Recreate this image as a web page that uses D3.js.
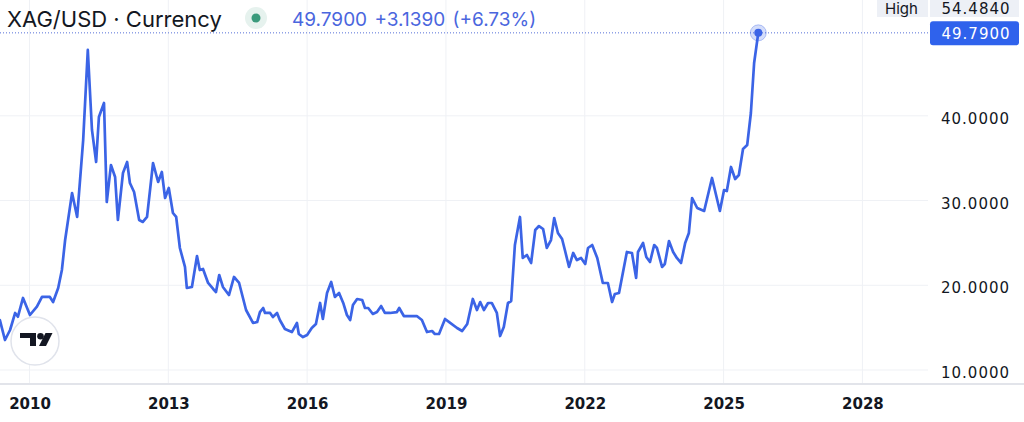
<!DOCTYPE html>
<html>
<head>
<meta charset="utf-8">
<script src="https://cdn.jsdelivr.net/npm/d3@7"></script>
<style>
  html, body { margin: 0; padding: 0; background: #ffffff; }
  svg { display: block; }
</style>
</head>
<body>
<svg id="chart" width="1024" height="422"></svg>
<script>
// ---- data (decimal year, price in USD) ----
const times = [
  2009.36, 2009.47, 2009.58, 2009.69, 2009.75, 2009.86, 2010.01, 2010.16, 2010.27, 2010.44,
  2010.51, 2010.62, 2010.70, 2010.77, 2010.92, 2011.03, 2011.16, 2011.26, 2011.35, 2011.44,
  2011.50, 2011.61, 2011.67, 2011.76, 2011.85, 2011.91, 2012.02, 2012.11, 2012.17, 2012.26,
  2012.37, 2012.45, 2012.54, 2012.67, 2012.78, 2012.86, 2012.93, 2013.01, 2013.10, 2013.17,
  2013.25, 2013.36, 2013.40, 2013.51, 2013.62, 2013.68, 2013.75, 2013.86, 2013.97, 2014.03,
  2014.10, 2014.18, 2014.31, 2014.42, 2014.53, 2014.68, 2014.83, 2014.92, 2014.98, 2015.05,
  2015.09, 2015.20, 2015.26, 2015.35, 2015.41, 2015.52, 2015.67, 2015.78, 2015.82, 2015.91,
  2016.00, 2016.10, 2016.19, 2016.28, 2016.34, 2016.43, 2016.52, 2016.60, 2016.69, 2016.78,
  2016.86, 2016.93, 2016.99, 2017.08, 2017.19, 2017.25, 2017.32, 2017.42, 2017.51, 2017.60,
  2017.68, 2017.79, 2017.94, 2017.99, 2018.09, 2018.22, 2018.37, 2018.48, 2018.59, 2018.70,
  2018.76, 2018.85, 2018.98, 2019.07, 2019.24, 2019.35, 2019.46, 2019.58, 2019.67, 2019.74,
  2019.82, 2019.91, 2019.99, 2020.10, 2020.17, 2020.25, 2020.34, 2020.41, 2020.49, 2020.60,
  2020.66, 2020.75, 2020.84, 2020.93, 2021.01, 2021.10, 2021.18, 2021.27, 2021.34, 2021.42,
  2021.51, 2021.57, 2021.66, 2021.75, 2021.83, 2021.92, 2022.01, 2022.07, 2022.16, 2022.27,
  2022.39, 2022.50, 2022.59, 2022.65, 2022.74, 2022.91, 2023.02, 2023.11, 2023.15, 2023.26,
  2023.33, 2023.41, 2023.50, 2023.56, 2023.67, 2023.73, 2023.82, 2023.91, 2023.99, 2024.08,
  2024.17, 2024.25, 2024.32, 2024.43, 2024.58, 2024.75, 2024.92, 2025.01, 2025.07, 2025.16,
  2025.25, 2025.33, 2025.42, 2025.51, 2025.59, 2025.66, 2025.75
];
const prices = [
  15.90, 13.54, 14.72, 16.73, 16.29, 18.50, 16.49, 17.47, 18.62, 18.62,
  18.02, 19.68, 21.80, 25.34, 30.89, 28.06, 37.14, 47.77, 38.33, 34.55,
  39.86, 41.51, 29.83, 34.19, 32.78, 27.70, 33.25, 34.55, 32.07, 31.01,
  27.70, 27.47, 28.06, 34.43, 32.19, 33.37, 30.30, 31.48, 28.53, 28.06,
  24.40, 22.16, 19.68, 19.80, 23.45, 21.80, 21.92, 20.27, 19.56, 19.20,
  21.21, 19.80, 18.85, 20.98, 20.27, 17.08, 15.55, 15.66, 16.84, 17.32,
  16.73, 16.73, 16.25, 16.73, 15.90, 14.84, 14.48, 15.55, 14.25, 13.89,
  14.13, 14.96, 15.43, 17.91, 16.02, 19.09, 20.39, 18.62, 19.09, 17.91,
  16.49, 15.90, 17.67, 18.38, 18.26, 17.32, 17.32, 16.61, 16.84, 17.55,
  16.73, 16.73, 16.84, 17.32, 16.37, 16.37, 16.37, 15.90, 14.48, 14.60,
  14.25, 14.25, 16.02, 15.66, 14.96, 14.60, 15.43, 18.38, 17.08, 18.02,
  17.08, 17.91, 17.91, 16.73, 14.01, 15.07, 17.91, 18.14, 24.75, 28.06,
  23.22, 23.57, 22.63, 26.52, 26.99, 26.64, 24.40, 25.34, 27.94, 26.17,
  25.46, 24.16, 22.16, 23.81, 22.98, 23.22, 22.51, 24.40, 24.75, 23.22,
  20.27, 20.27, 18.02, 18.97, 19.09, 23.93, 23.81, 20.86, 23.93, 24.99,
  23.34, 22.75, 24.75, 24.40, 22.16, 22.51, 25.22, 23.93, 23.22, 22.63,
  24.99, 26.17, 30.30, 29.12, 28.77, 32.66, 28.77, 31.24, 31.12, 33.96,
  32.54, 33.01, 36.08, 36.55, 40.33, 46.23, 49.79
];
const xTicks = [2010, 2013, 2016, 2019, 2022, 2025, 2028];
const yTicks = [10, 20, 30, 40];
const titleText = "XAG/USD · Currency";
const quoteText = "49.7900 +3.1390 (+6.73%)";
const highLabel = "High";
const highValue = 54.4840;
const lastValue = 49.7900;

// ---- layout ----
const W = 1024, H = 422;
const plotRight = 928;
const axisY = 384;
const lineColor = "#3b64e6";
const gridColor = "#eff1f5";
const textColor = "#131722";

const x = d3.scaleLinear().domain([2010, 2028]).range([29.5, 862.4]);
const y = d3.scaleLinear().domain([10, 40]).range([370, 115.8]);

const svg = d3.select("#chart");

svg.append("defs").append("clipPath").attr("id", "plotclip")
  .append("rect").attr("x", 0).attr("y", 0).attr("width", plotRight).attr("height", axisY);

// grid
const grid = svg.append("g");
grid.selectAll("line.v").data(xTicks).join("line")
  .attr("class", "v")
  .attr("x1", d => x(d)).attr("x2", d => x(d))
  .attr("y1", 0).attr("y2", axisY)
  .attr("stroke", gridColor).attr("stroke-width", 1);
grid.selectAll("line.h").data(yTicks).join("line")
  .attr("class", "h")
  .attr("x1", 0).attr("x2", plotRight)
  .attr("y1", d => y(d)).attr("y2", d => y(d))
  .attr("stroke", gridColor).attr("stroke-width", 1);

// bottom axis line
svg.append("line")
  .attr("x1", 0).attr("x2", W).attr("y1", axisY).attr("y2", axisY)
  .attr("stroke", "#e2e4ea").attr("stroke-width", 2);

// x axis
const xAxis = d3.axisBottom(x).tickValues(xTicks).tickSize(0).tickPadding(0).tickFormat(d3.format("d"));
const gx = svg.append("g").attr("transform", `translate(0,${axisY})`).call(xAxis);
gx.select(".domain").remove();
gx.selectAll("text")
  .attr("y", 25).attr("dy", 0)
  .attr("fill", textColor)
  .style("font-family", "'DejaVu Sans', sans-serif")
  .style("font-weight", "bold")
  .style("font-size", "15px");

// y axis
const yAxis = d3.axisRight(y).tickValues(yTicks).tickSize(0).tickPadding(13).tickFormat(d => d.toFixed(4));
const gy = svg.append("g").attr("transform", `translate(${plotRight},0)`).call(yAxis);
gy.select(".domain").remove();
gy.selectAll("text")
  .attr("dy", "0.5em")
  .attr("fill", textColor)
  .style("font-family", "'DejaVu Sans', sans-serif")
  .style("font-size", "15px")
  .style("letter-spacing", "1px");

// dotted last-price line
svg.append("line")
  .attr("x1", 0).attr("x2", plotRight)
  .attr("y1", y(lastValue)).attr("y2", y(lastValue))
  .attr("stroke", "#5670d8").attr("stroke-width", 1)
  .attr("stroke-dasharray", "1,2");

// price line
const pts = times.map((t, i) => [t, prices[i]]);
const line = d3.line().x(d => x(d[0])).y(d => y(d[1])).curve(d3.curveLinear);
svg.append("path")
  .datum(pts)
  .attr("clip-path", "url(#plotclip)")
  .attr("d", line)
  .attr("fill", "none")
  .attr("stroke", lineColor)
  .attr("stroke-width", 2.7)
  .attr("stroke-linejoin", "round")
  .attr("stroke-linecap", "round");

// last point marker
const last = pts[pts.length - 1];
svg.append("circle")
  .attr("cx", x(last[0])).attr("cy", y(last[1])).attr("r", 8)
  .attr("fill", "rgba(59,100,230,0.22)")
  .attr("stroke", "rgba(59,100,230,0.35)").attr("stroke-width", 1);
svg.append("circle")
  .attr("cx", x(last[0])).attr("cy", y(last[1])).attr("r", 4)
  .attr("fill", lineColor);

// High label
svg.append("rect").attr("x", 877).attr("y", 0).attr("width", 51).attr("height", 17)
  .attr("fill", "#edf0f6");
svg.append("rect").attr("x", 930).attr("y", 0).attr("width", 89).attr("height", 17)
  .attr("fill", "#edf0f6");
svg.append("text").attr("x", 885).attr("y", 13.5)
  .attr("fill", textColor)
  .style("font-family", "Inter, 'Liberation Sans', sans-serif")
  .style("font-size", "15px")
  .text(highLabel);
svg.append("text").attr("x", 941.5).attr("y", 13.5)
  .attr("fill", textColor)
  .style("font-family", "'DejaVu Sans', sans-serif")
  .style("font-size", "15px")
  .style("letter-spacing", "1px")
  .text(highValue.toFixed(4));

// last price tag
svg.append("rect").attr("x", 930).attr("y", y(lastValue) - 11.5).attr("width", 89).attr("height", 24)
  .attr("rx", 3)
  .attr("fill", "#2f62ec");
svg.append("text").attr("x", 941.5).attr("y", y(lastValue) + 0.5).attr("dy", "0.36em")
  .attr("fill", "#ffffff")
  .style("font-family", "'DejaVu Sans', sans-serif")
  .style("font-size", "15px")
  .style("letter-spacing", "1px")
  .text(lastValue.toFixed(4));

// header
svg.append("text").attr("x", 7).attr("y", 27)
  .attr("fill", textColor)
  .style("font-family", "Inter, 'Liberation Sans', sans-serif")
  .style("font-size", "22px")
  .text(titleText);
svg.append("circle").attr("cx", 256).attr("cy", 18).attr("r", 11).attr("fill", "#e6f2ee");
svg.append("circle").attr("cx", 256).attr("cy", 18).attr("r", 4.5).attr("fill", "#3a9a7c");
svg.append("text").attr("x", 292).attr("y", 26)
  .attr("fill", "#4a66de")
  .style("font-family", "Inter, 'Liberation Sans', sans-serif")
  .style("font-size", "19px")
  .style("word-spacing", "2px")
  .text(quoteText);

// TradingView badge
const badge = svg.append("g").attr("transform", "translate(35,341)");
badge.append("circle").attr("r", 24).attr("fill", "#ffffff")
  .attr("stroke", "#e0e3eb").attr("stroke-width", 1.5);
const logo = badge.append("g").attr("transform", "translate(0.5,0.5)");
logo.append("path")
  .attr("d", "M-15.5,-8.5 H0.5 V4.5 H-5.5 V-3.5 H-15.5 Z")
  .attr("fill", textColor);
logo.append("circle").attr("cx", 5).attr("cy", -5.2).attr("r", 3.3).attr("fill", textColor);
logo.append("path")
  .attr("d", "M10,-8.5 H17 L10.5,4.5 H3.5 Z")
  .attr("fill", textColor);
</script>
</body>
</html>
